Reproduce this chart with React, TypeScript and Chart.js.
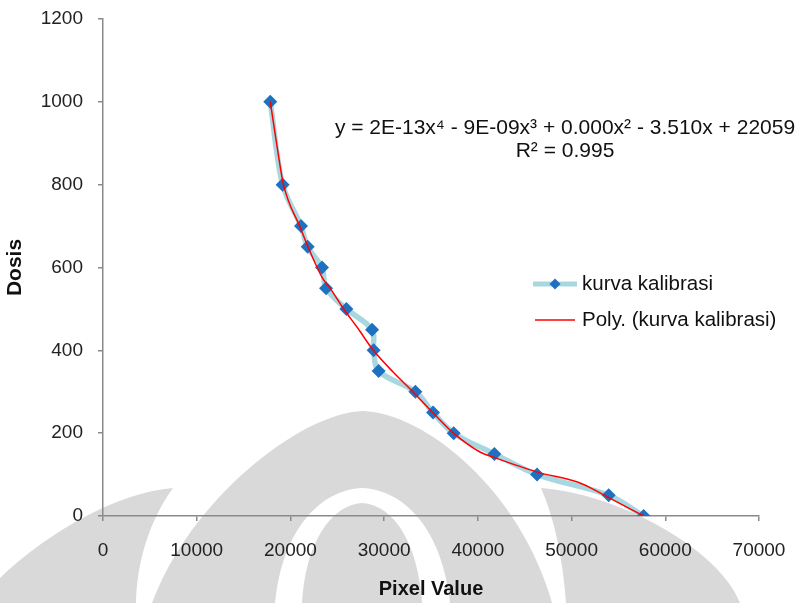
import React, { useEffect, useRef } from "react";
import { Chart, registerables } from "chart.js";

Chart.register(...registerables);

// Calibration data: pixel value vs dose
const pixelValues = [57690, 53960, 46320, 41760, 37420, 35220, 33330, 29410, 28880, 28710, 25970, 23800, 23370, 21840, 21130, 19170, 17850];
const doses = [0, 50, 100, 150, 200, 250, 300, 350, 400, 450, 500, 550, 600, 650, 700, 800, 1000];

// Polynomial trendline
const polyX = [17850, 18600, 19240, 21060, 21910, 23410, 24260, 25650, 27140, 28850, 30980, 33120, 35260, 37400, 40270, 41660, 46350, 50620, 52020, 53820, 57690];
const polyY = [1000, 888, 802, 696, 648, 575, 549, 501, 455, 400, 347, 299, 248, 200, 154, 142, 106, 82, 68, 46, 0];

const xTicks = [0, 10000, 20000, 30000, 40000, 50000, 60000, 70000];
const yTicks = [0, 200, 400, 600, 800, 1000, 1200];

const seriesName = "kurva kalibrasi";
const trendName = "Poly. (kurva kalibrasi)";
const equationText = "y = 2E-13x\u2074 - 9E-09x\u00B3 + 0.000x\u00B2 - 3.510x + 22059";
const r2Text = "R\u00B2 = 0.995";

const FONT = "'Liberation Sans', Arial, sans-serif";
const LINE_BLUE = "#a9d7df";
const MARK_BLUE = "#1e70c0";
const RED = "#ff0000";
const AXIS = "#8a8a8a";
const WATERMARK = "#d9d9d9";

export default function App() {
  const ref = useRef<HTMLCanvasElement | null>(null);

  useEffect(() => {
    document.body.style.margin = "0";
    const canvas = ref.current;
    if (!canvas) return;

    const watermark = {
      id: "watermark",
      beforeDraw(chart: any) {
        const ctx = chart.ctx as CanvasRenderingContext2D;
        ctx.save();
        ctx.fillStyle = "#fff";
        ctx.fillRect(0, 0, chart.width, chart.height);
        ctx.fillStyle = WATERMARK;
        // central dome
        ctx.beginPath();
        ctx.moveTo(152, 603);
        ctx.bezierCurveTo(190, 500, 300, 413, 363, 411);
        ctx.bezierCurveTo(425, 413, 520, 490, 552, 603);
        ctx.closePath();
        ctx.fill();
        // inner white arch
        ctx.fillStyle = "#fff";
        ctx.beginPath();
        ctx.moveTo(275, 603);
        ctx.bezierCurveTo(282, 530, 320, 490, 362, 488);
        ctx.bezierCurveTo(405, 490, 442, 530, 450, 603);
        ctx.closePath();
        ctx.fill();
        // inner gray
        ctx.fillStyle = WATERMARK;
        ctx.beginPath();
        ctx.moveTo(302, 603);
        ctx.bezierCurveTo(305, 545, 330, 505, 362, 503);
        ctx.bezierCurveTo(395, 505, 418, 545, 422, 603);
        ctx.closePath();
        ctx.fill();
        // left crescent
        ctx.beginPath();
        ctx.moveTo(0, 603);
        ctx.lineTo(0, 578);
        ctx.bezierCurveTo(50, 530, 120, 492, 173, 488);
        ctx.bezierCurveTo(150, 520, 137, 560, 136, 603);
        ctx.closePath();
        ctx.fill();
        // right crescent
        ctx.beginPath();
        ctx.moveTo(740, 603);
        ctx.bezierCurveTo(720, 550, 620, 494, 541, 488);
        ctx.bezierCurveTo(555, 520, 563, 560, 566, 603);
        ctx.closePath();
        ctx.fill();
        ctx.restore();
      },
    };

    const overlay = {
      id: "overlay",
      afterDraw(chart: any) {
        const ctx = chart.ctx as CanvasRenderingContext2D;
        ctx.save();
        ctx.fillStyle = "#111";
        ctx.font = `21px ${FONT}`;
        ctx.textAlign = "center";
        ctx.textBaseline = "middle";
        ctx.fillText(equationText, 565, 128);
        ctx.fillText(r2Text, 565, 151);

        // legend
        ctx.font = `20.5px ${FONT}`;
        ctx.textAlign = "left";
        ctx.strokeStyle = LINE_BLUE;
        ctx.lineWidth = 5;
        ctx.beginPath();
        ctx.moveTo(533, 284);
        ctx.lineTo(577, 284);
        ctx.stroke();
        ctx.fillStyle = MARK_BLUE;
        ctx.beginPath();
        ctx.moveTo(555, 278.5);
        ctx.lineTo(560.5, 284);
        ctx.lineTo(555, 289.5);
        ctx.lineTo(549.5, 284);
        ctx.closePath();
        ctx.fill();
        ctx.strokeStyle = RED;
        ctx.lineWidth = 1.5;
        ctx.beginPath();
        ctx.moveTo(535, 320);
        ctx.lineTo(575, 320);
        ctx.stroke();
        ctx.fillStyle = "#111";
        ctx.fillText(seriesName, 582, 284);
        ctx.fillText(trendName, 582, 320);
        ctx.restore();
      },
    };

    const chart = new Chart(canvas, {
      type: "scatter",
      data: {
        datasets: [
          {
            label: trendName,
            data: polyX.map((x, i) => ({ x, y: polyY[i] })),
            showLine: true,
            borderColor: RED,
            borderWidth: 1.5,
            pointRadius: 0,
            cubicInterpolationMode: "monotone",
            order: 0,
          },
          {
            label: seriesName,
            data: pixelValues.map((x, i) => ({ x, y: doses[i] })),
            showLine: true,
            borderColor: LINE_BLUE,
            borderWidth: 5.5,
            backgroundColor: MARK_BLUE,
            pointBackgroundColor: MARK_BLUE,
            pointBorderColor: MARK_BLUE,
            pointStyle: "rectRot",
            pointRadius: 7,
            pointBorderWidth: 0,
            tension: 0.35,
            order: 1,
          },
        ],
      },
      options: {
        responsive: false,
        animation: false,
        layout: { padding: { top: 19, right: 40, left: 0, bottom: 0 } },
        plugins: { legend: { display: false }, tooltip: { enabled: false } },
        scales: {
          x: {
            type: "linear",
            min: 0,
            max: 70000,
            afterBuildTicks(s: any) {
              s.ticks = xTicks.map((v) => ({ value: v }));
            },
            afterFit(s: any) {
              s.height = 87;
              s.paddingLeft = 0;
              s.paddingRight = 0;
            },
            ticks: {
              callback: (v: any) => String(v),
              font: { family: FONT, size: 19 },
              color: "#222",
              padding: 18,
              maxRotation: 0,
            },
            grid: { drawOnChartArea: false, drawTicks: true, tickLength: 5, color: AXIS, lineWidth: 1.5 },
            border: { display: true, color: AXIS, width: 1.5 },
            title: {
              display: true,
              text: "Pixel Value",
              font: { family: FONT, size: 20, weight: "bold" },
              color: "#111",
              padding: { top: 0, bottom: 2 },
            },
          },
          y: {
            type: "linear",
            min: 0,
            max: 1200,
            afterBuildTicks(s: any) {
              s.ticks = yTicks.map((v) => ({ value: v }));
            },
            afterFit(s: any) {
              s.width = 103;
              s.paddingTop = 0;
              s.paddingBottom = 0;
            },
            ticks: {
              callback: (v: any) => String(v),
              font: { family: FONT, size: 19 },
              color: "#222",
              padding: 15,
            },
            grid: { drawOnChartArea: false, drawTicks: true, tickLength: 5, color: AXIS, lineWidth: 1.5 },
            border: { display: true, color: AXIS, width: 1.5 },
            title: {
              display: true,
              text: "Dosis",
              font: { family: FONT, size: 21, weight: "bold" },
              color: "#111",
              padding: { top: 3, bottom: 0 },
            },
          },
        },
      },
      plugins: [watermark, overlay],
    });

    return () => chart.destroy();
  }, []);

  return (
    <div style={{ width: 799, height: 603, background: "#fff" }}>
      <canvas ref={ref} width={799} height={603} style={{ display: "block", width: 799, height: 603 }} />
    </div>
  );
}
